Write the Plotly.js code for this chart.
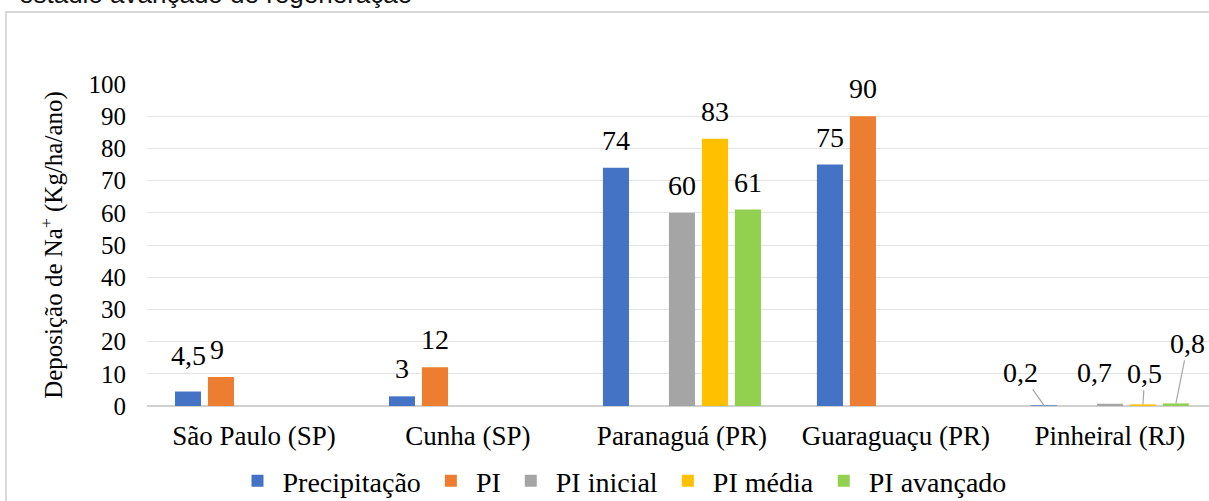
<!DOCTYPE html>
<html>
<head>
<meta charset="utf-8">
<script src="https://cdn.plot.ly/plotly-3.0.1.min.js"></script>
<style>
html,body{margin:0;padding:0;background:#fff;}
#wrap{position:relative;width:1209px;height:501px;}
#warm{position:absolute;left:300px;top:200px;z-index:0;font-size:28px;color:#fff;white-space:nowrap;}
#chart{position:absolute;left:0;top:0;z-index:1;width:1209px;height:501px;}
</style>
</head>
<body>
<div id="wrap">
<div id="warm"><span style="font-family:'Liberation Serif'">a</span><span style="font-family:'Liberation Sans'">a</span></div>
<div id="chart"></div>
</div>
<script>
// ---- data ----
const categories = ['São Paulo (SP)', 'Cunha (SP)', 'Paranaguá (PR)', 'Guaraguaçu (PR)', 'Pinheiral (RJ)'];
const precipitacao = [4.5, 3, 74, 75, 0.2];
const pi = [9, 12, null, 90, null];
const piInicial = [null, null, 60, null, 0.7];
const piMedia = [null, null, 83, null, 0.5];
const piAvancado = [null, null, 61, null, 0.8];
const seriesNames = ['Precipitação', 'PI', 'PI inicial', 'PI média', 'PI avançado'];
const yTicks = [0, 10, 20, 30, 40, 50, 60, 70, 80, 90, 100];
const captionText = 'estádio avançado de regeneração';

// ---- style ----
const seriesColors = ['#4472C4', '#ED7D31', '#A5A5A5', '#FFC000', '#92D050'];
const SERIF_FONT = 'Liberation Serif';
const SANS_FONT = 'Liberation Sans';
const W = 1209, H = 501;
const M = {l: 147, r: 0, t: 84, b: 95};
const BARGAP = 0.229, GROUPGAP = 0.21;
const XMAX = 4.463;

// label placement tweaks (series index - category index)
const labelTweaks = {
  '0-0': {dy: 9},
  '1-0': {dx: -4},
  '0-4': {ax: -23, ay: -33, leader: true},
  '2-4': {ax: -15, ay: -31, leader: false},
  '3-4': {ax: 2, ay: -31, leader: true},
  '4-4': {ax: 12, ay: -60, leader: true}
};

const allSeries = [precipitacao, pi, piInicial, piMedia, piAvancado];
const fmt = v => String(v).replace('.', ',');

const traces = allSeries.map((vals, s) => ({
  type: 'bar',
  name: seriesNames[s],
  x: categories,
  y: vals,
  marker: {color: seriesColors[s]},
  hoverinfo: 'x+y+name'
}));

const plotW = W - M.l - M.r, plotH = H - M.t - M.b;
const px2paperX = p => (p - M.l) / plotW;
const px2paperY = p => (H - M.b - p) / plotH;

const slot = (1 - BARGAP) / allSeries.length;
const annotations = [];
allSeries.forEach((vals, s) => {
  vals.forEach((v, i) => {
    if (v === null || v === undefined) return;
    const t = labelTweaks[s + '-' + i] || {};
    const xPos = i + (s - (allSeries.length - 1) / 2) * slot;
    const base = {
      x: xPos, y: v, xref: 'x', yref: 'y', text: fmt(v),
      font: {family: SERIF_FONT, size: 28, color: '#000'}
    };
    if (t.ax !== undefined) {
      annotations.push(Object.assign(base, {
        showarrow: true, arrowhead: 0, arrowwidth: 1.2,
        arrowcolor: t.leader ? '#A6A6A6' : 'rgba(0,0,0,0)',
        ax: t.ax, ay: t.ay, standoff: 0
      }));
    } else {
      annotations.push(Object.assign(base, {
        showarrow: false, yanchor: 'bottom',
        yshift: 10 + (t.dy || 0), xshift: (t.dx || 0)
      }));
    }
  });
});

annotations.push({
  xref: 'paper', yref: 'paper', x: px2paperX(17), y: px2paperY(11),
  xanchor: 'left', yanchor: 'bottom', showarrow: false,
  text: captionText,
  font: {family: SANS_FONT, size: 26, color: '#111'}
});

const layout = {
  width: W, height: H,
  margin: M,
  font: {family: SERIF_FONT, color: '#000'},
  paper_bgcolor: '#fff', plot_bgcolor: '#fff',
  barmode: 'group', bargap: BARGAP, bargroupgap: GROUPGAP,
  showlegend: true,
  legend: {
    orientation: 'h', xref: 'container', yref: 'container',
    x: 622 / W, xanchor: 'center',
    y: 1 - 456 / H, yanchor: 'top',
    font: {family: SERIF_FONT, size: 28, color: '#000'},
    itemwidth: 40,
    traceorder: 'normal'
  },
  xaxis: {
    type: 'category', range: [-0.5, XMAX],
    showgrid: false, zeroline: false, showline: false,
    ticks: '', tickfont: {family: SERIF_FONT, size: 27, color: '#000'},
    ticklabelstandoff: 11, automargin: false
  },
  yaxis: {
    range: [0, 100], tickvals: yTicks, ticktext: yTicks.map(String),
    showgrid: true, gridcolor: '#E4E4E4', gridwidth: 1,
    zeroline: true, zerolinecolor: '#D0D0D0', zerolinewidth: 2,
    showline: false, ticks: '', automargin: false,
    tickfont: {family: SERIF_FONT, size: 25, color: '#000'},
    ticklabelstandoff: 20,
    title: {text: 'Deposição de Na<sup>+</sup> (Kg/ha/ano)', font: {family: SERIF_FONT, size: 25, color: '#000'}, standoff: 18}
  },
  shapes: [{
    type: 'rect', xref: 'paper', yref: 'paper',
    x0: px2paperX(6), x1: px2paperX(1230), y0: px2paperY(530), y1: px2paperY(12),
    line: {color: '#D9D9D9', width: 2}, fillcolor: 'rgba(0,0,0,0)', layer: 'below'
  }],
  annotations: annotations
};

Plotly.newPlot('chart', traces, layout, {staticPlot: true});
</script>
</body>
</html>
